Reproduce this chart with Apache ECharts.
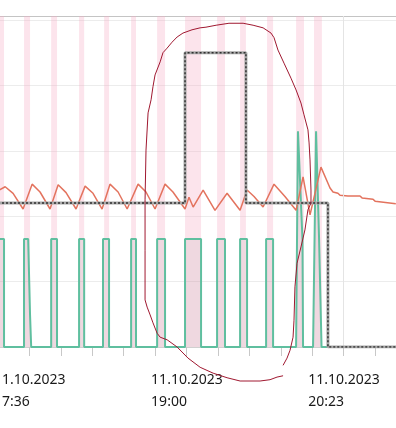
<!DOCTYPE html>
<html>
<head>
<meta charset="utf-8">
<script src="https://cdn.jsdelivr.net/npm/echarts@6/dist/echarts.min.js"></script>
<style>html,body{margin:0;padding:0;background:#fff}#c{width:396px;height:428px}</style>
</head>
<body>
<div id="c"></div>
<script>
// x values: minutes after 11.10.2023 17:36:40; y values in chart units
var TICK_MIN = 1000 / 60;           // one axis tick = 1000 s
var tickLabels = ['11.10.2023\n17:36', '11.10.2023\n19:00', '11.10.2023\n20:23'];
var labelEvery = 5;

// pink "on" periods [start, end]
var bands = [[-2, 3.2], [13.8, 17.0], [28.2, 31.3], [43.0, 45.7], [56.3, 58.9], [70.6, 73.2],
  [84.4, 88.6], [99.2, 107.7], [116.2, 120.4], [128.4, 131.5], [142.7, 145.9], [158.1, 162.3], [167.6, 171.8]];

var tealSeries = [[0,1.65],[3.2,1.65],[3.2,0],[13.8,0],[13.8,1.65],[16.0,1.65],[17.0,0.49],[17.6,0.49],[17.6,0],
  [28.2,0],[28.2,1.65],[31.3,1.65],[31.3,0],[43.0,0],[43.0,1.65],[45.7,1.65],[45.7,0],
  [55.7,0],[55.7,1.65],[58.9,1.65],[58.9,0],[70.6,0],[70.6,1.65],[73.2,1.65],[73.2,0],
  [84.4,0],[84.4,1.65],[88.6,1.65],[88.6,0],[99.2,0],[99.2,1.65],[107.7,1.65],[107.7,0],
  [116.2,0],[116.2,1.65],[120.4,1.65],[120.4,0],[128.4,0],[128.4,1.65],[132.1,1.65],[132.1,0],
  [142.2,0],[142.2,1.65],[145.9,1.65],[145.9,0],[158.1,0],[159.1,3.30],[161.5,1.65],[161.8,0],
  [167.1,0],[168.7,3.30],[170.3,1.65],[171.3,1.65],[171.6,0],[174.5,0]];

var redSeries = [[0,2.39],[3.8,2.45],[8.0,2.35],[13.3,2.11],[18.1,2.49],[22.3,2.37],[27.6,2.11],[31.9,2.48],
  [36.1,2.36],[41.4,2.11],[46.2,2.46],[50.4,2.35],[55.2,2.11],[59.4,2.49],[63.7,2.37],[68.5,2.11],
  [74.3,2.49],[78.5,2.37],[83.3,2.11],[88.6,2.49],[92.8,2.37],[99.2,2.11],[101.3,2.29],[103.5,2.14],
  [108.8,2.40],[115.1,2.09],[121.5,2.35],[128.4,2.09],[132.1,2.40],[135.8,2.30],[140.6,2.14],[146.4,2.49],
  [152.2,2.30],[158.1,2.09],[161.8,2.60],[165.5,2.02],[171.3,2.75],[176.1,2.43],[177.7,2.37],[180.3,2.35],
  [181.4,2.32],[185.6,2.31],[192.0,2.31],[193.1,2.28],[198.9,2.26],[200.0,2.23],[211,2.19]];

var blackSeries = [[0,2.20],[99.2,2.20],[99.2,4.50],[131.5,4.50],[131.5,2.20],[175.0,2.20],[175.0,0],[212,0]];

var markerLine = [183.3];

var annotation = [[151.2,-0.44],[148.0,-0.46],[144.3,-0.50],[139.0,-0.52],[128.4,-0.52],[121.5,-0.47],[114.1,-0.40],
  [107.2,-0.31],[100.8,-0.17],[95.0,0],[89.7,0.11],[86.0,0.15],[84.4,0.21],[82.2,0.37],[80.7,0.49],[79.1,0.61],
  [78.0,0.72],[78.0,1.48],[78.0,2.25],[78.5,3.01],[79.6,3.58],[81.2,3.78],[82.2,3.98],[83.3,4.16],[86.0,4.36],
  [87.5,4.50],[89.7,4.57],[92.3,4.66],[95.0,4.74],[98.1,4.80],[102.9,4.85],[107.2,4.88],[110.3,4.89],[115.7,4.92],
  [122.5,4.95],[130.0,4.95],[135.3,4.92],[140.6,4.88],[144.8,4.80],[146.4,4.73],[148.5,4.54],[151.7,4.34],
  [155.4,4.11],[158.1,3.93],[160.7,3.73],[162.3,3.55],[164.4,3.32],[165.0,3.12],[165.5,2.86],[166.0,2.40],
  [166.0,2.20],[164.4,2.10],[162.8,1.79],[160.7,1.53],[158.6,1.28],[157.5,0.92],[157.0,0.41],[156.5,0.15],
  [154.9,-0.05],[153.3,-0.17],[151.2,-0.28]];

var chart = echarts.init(document.getElementById('c'), null, {renderer: 'canvas'});
chart.setOption({
  animation: false,
  backgroundColor: '#fff',
  grid: {left: -2, right: 0, top: 16, bottom: 81, containLabel: false, outerBoundsMode: 'none'},
  xAxis: {
    type: 'value', min: 0, max: 211.1, interval: TICK_MIN,
    axisLine: {show: true, lineStyle: {color: '#d0d0d0', width: 1}},
    axisTick: {show: true, length: 9, lineStyle: {color: '#c8c8c8'}},
    splitLine: {show: false},
    axisLabel: {
      showMinLabel: true, showMaxLabel: false,
      margin: 22, align: 'left', padding: [0, 0, 0, -4],
      color: '#1a1a1a', fontSize: 14, lineHeight: 22, fontFamily: 'Noto Sans',
      formatter: function (v) {
        var k = Math.round(v / TICK_MIN);
        if (k % labelEvery !== 0) return '';
        return tickLabels[k / labelEvery] || '';
      }
    }
  },
  yAxis: {
    type: 'value', min: 0, max: 5.061, interval: 1,
    axisLine: {show: false}, axisTick: {show: false}, axisLabel: {show: false},
    splitLine: {show: true, lineStyle: {color: ['#ececec','#ececec','#ececec','#ececec','#ececec','#ececec','#c4c4c4'], width: 1}}
  },
  series: [
    {
      type: 'line', data: [], z: 1, silent: true,
      markArea: {silent: true, itemStyle: {color: 'rgba(245,170,195,0.32)'},
        data: bands.map(function (b) { return [{xAxis: b[0]}, {xAxis: b[1]}]; })},
      markLine: {silent: true, symbol: ['none', 'none'], label: {show: false},
        lineStyle: {color: '#e4e4e4', width: 1, type: 'solid'},
        data: markerLine.map(function (x) { return {xAxis: x}; })}
    },
    {
      type: 'line', data: tealSeries, z: 3, symbol: 'none',
      lineStyle: {color: '#5fbf9f', width: 2},
      areaStyle: {color: 'rgba(0,0,0,0.07)', origin: 'start'}
    },
    {
      type: 'line', data: redSeries, z: 4, symbol: 'none',
      lineStyle: {color: '#e3735e', width: 1.5}
    },
    {
      type: 'line', data: blackSeries, z: 5, symbol: 'none',
      lineStyle: {color: '#a8a8a8', width: 3}
    },
    {
      type: 'line', data: blackSeries, z: 6, symbol: 'none',
      lineStyle: {color: '#303030', width: 1.5, type: [2, 2]}
    },
    {
      type: 'line', data: annotation, z: 10, symbol: 'none', clip: false,
      lineStyle: {color: '#a01830', width: 1}
    }
  ]
});
</script>
</body>
</html>
